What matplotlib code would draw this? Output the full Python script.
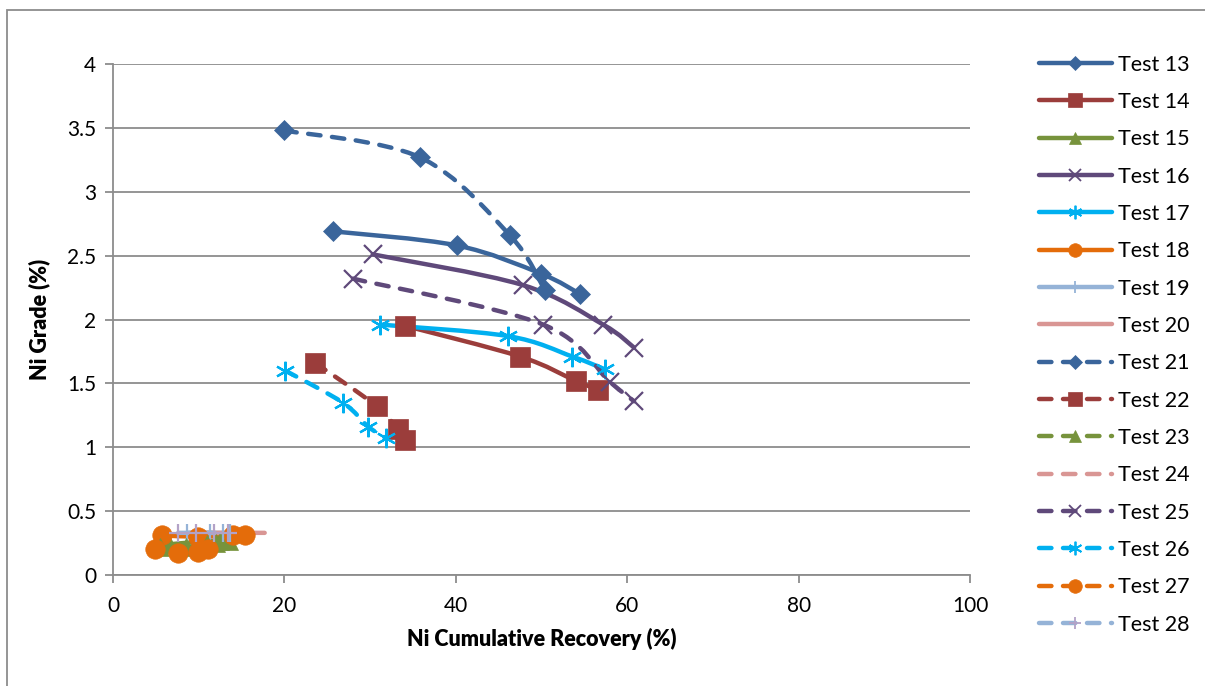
import numpy as np
import matplotlib
matplotlib.use('Agg')
import matplotlib.pyplot as plt
from matplotlib.path import Path
from matplotlib.patches import PathPatch, Rectangle
from matplotlib.lines import Line2D

plt.rcParams['font.family'] = ['Lato', 'DejaVu Sans']

# data (recovery %, grade %)
t13_x = [25.7, 40.1, 49.9, 54.5]
t13_y = [2.69, 2.58, 2.36, 2.20]
t14_x = [34.1, 47.5, 54.0, 56.6]
t14_y = [1.95, 1.71, 1.52, 1.45]
t15_x = [6.5, 10.0, 12.5, 13.5]
t15_y = [0.24, 0.26, 0.27, 0.27]
t16_x = [30.3, 47.8, 57.2, 60.8]
t16_y = [2.51, 2.27, 1.96, 1.78]
t17_x = [31.2, 46.1, 53.6, 57.4]
t17_y = [1.96, 1.87, 1.71, 1.61]
t18_x = [5.7, 9.9, 14.0, 15.4]
t18_y = [0.31, 0.30, 0.31, 0.31]
t19_x = [8.6, 11.3, 12.8, 13.6]
t19_y = [0.33, 0.33, 0.33, 0.33]
t20_x = [9.0, 12.0, 15.0, 17.7]
t20_y = [0.33, 0.33, 0.33, 0.33]
t21_x = [20.0, 35.8, 46.3, 50.4]
t21_y = [3.48, 3.27, 2.66, 2.23]
t22_x = [23.6, 30.8, 33.2, 34.1]
t22_y = [1.66, 1.32, 1.14, 1.06]
t23_x = [5.5, 8.5, 11.0, 12.0]
t23_y = [0.22, 0.22, 0.24, 0.25]
t24_x = [10.0, 12.5, 14.5, 16.0]
t24_y = [0.33, 0.33, 0.33, 0.33]
t25_x = [28.0, 50.2, 58.0, 60.8]
t25_y = [2.32, 1.96, 1.51, 1.36]
t26_x = [20.1, 26.8, 29.8, 31.9]
t26_y = [1.60, 1.35, 1.16, 1.07]
t27_x = [4.9, 7.6, 9.9, 11.1]
t27_y = [0.20, 0.17, 0.18, 0.20]
t28_x = [7.6, 9.7, 11.8, 13.4]
t28_y = [0.33, 0.33, 0.33, 0.33]

labels = ['Test %d' % i for i in range(13, 29)]
xs = [t13_x, t14_x, t15_x, t16_x, t17_x, t18_x, t19_x, t20_x,
      t21_x, t22_x, t23_x, t24_x, t25_x, t26_x, t27_x, t28_x]
ys = [t13_y, t14_y, t15_y, t16_y, t17_y, t18_y, t19_y, t20_y,
      t21_y, t22_y, t23_y, t24_y, t25_y, t26_y, t27_y, t28_y]

blue = '#3a659b'
red = '#9b3d3b'
green = '#77933c'
purple = '#5f497a'
cyan = '#00b0f0'
orange = '#e46c0a'
lblue = '#95b3d7'
pink = '#d99694'
lpurple = '#b3a2c7'

asterisk = (6, 2, 0)
# color, marker, marker color, marker size, dashed
styles = [
    (blue, 'D', blue, 10, False),
    (red, 's', red, 14, False),
    (green, '^', green, 13, False),
    (purple, 'x', purple, 13, False),
    (cyan, asterisk, cyan, 14, False),
    (orange, 'o', orange, 14, False),
    (lblue, '|', lblue, 13, False),
    (pink, None, pink, 0, False),
    (blue, 'D', blue, 10, True),
    (red, 's', red, 14, True),
    (green, '^', green, 13, True),
    (pink, None, pink, 0, True),
    (purple, 'x', purple, 13, True),
    (cyan, asterisk, cyan, 14, True),
    (orange, 'o', orange, 14, True),
    (lblue, '+', lpurple, 13, True),
]

LW = 3.2
DASH = (0, (2.8, 2.6))
THIN = ('x', '+', '|', asterisk)


def smooth_path(ax, x, y):
    # catmull-rom curve through the points, drawn as bezier segments
    pts = ax.transData.transform(np.column_stack([x, y]))
    n = len(pts)
    verts = [pts[0]]
    codes = [Path.MOVETO]
    for i in range(n - 1):
        p0 = pts[i - 1] if i > 0 else pts[i]
        p1 = pts[i]
        p2 = pts[i + 1]
        p3 = pts[i + 2] if i + 2 < n else pts[i + 1]
        c1 = p1 + (p2 - p0) / 6.0
        c2 = p2 - (p3 - p1) / 6.0
        verts += [c1, c2, p2]
        codes += [Path.CURVE4] * 3
    return Path(verts, codes)


fig = plt.figure(figsize=(12.05, 6.86), dpi=100)
ax = fig.add_axes([113 / 1205, 1 - 575 / 686, (970 - 113) / 1205, (575 - 64) / 686])
ax.set_xlim(0, 100)
ax.set_ylim(0, 4)

ax.set_xticks(np.arange(0, 101, 20))
ax.set_yticks(np.arange(0, 4.01, 0.5))
ax.set_yticklabels(['0', '0.5', '1', '1.5', '2', '2.5', '3', '3.5', '4'])
ax.grid(axis='y', color='#8c8c8c', linewidth=1.3)
ax.set_axisbelow(True)
for s in ['top', 'right']:
    ax.spines[s].set_visible(False)
for s in ['left', 'bottom']:
    ax.spines[s].set_color('#8c8c8c')
    ax.spines[s].set_linewidth(1.3)
ax.tick_params(axis='both', direction='out', length=6, width=1.3, color='#8c8c8c',
               labelsize=15, pad=6)
ax.tick_params(axis='x', pad=9)
ax.set_xlabel('Ni Cumulative Recovery (%)', fontsize=15.5, fontweight='heavy', labelpad=9)
ax.set_ylabel('Ni Grade (%)', fontsize=15.5, fontweight='heavy', labelpad=12)

handles = []
for x, y, lab, st in zip(xs, ys, labels, styles):
    col, mk, mcol, ms, dashed = st
    ls = DASH if dashed else '-'
    patch = PathPatch(smooth_path(ax, x, y), transform=None, fill=False,
                      edgecolor=col, linewidth=LW, linestyle=ls,
                      capstyle='round', joinstyle='round', zorder=2)
    ax.add_artist(patch)
    if mk is not None:
        ax.plot(x, y, linestyle='none', marker=mk, markersize=ms,
                color=mcol, markeredgewidth=1.6 if mk in THIN else 0.5, zorder=3)
    h = Line2D([], [], color=col, linewidth=LW, linestyle=ls,
               solid_capstyle='round', dash_capstyle='round',
               marker=mk if mk is not None else '', markersize=ms * 0.7,
               markerfacecolor=mcol, markeredgecolor=mcol,
               markeredgewidth=1.3 if mk in THIN else 0.5)
    handles.append(h)

leg = fig.legend(handles, labels, loc='upper left', bbox_to_anchor=(1030 / 1205, 1 - 46 / 686),
                 frameon=False, fontsize=15.5, handlelength=3.4, handletextpad=0.3,
                 labelspacing=0.805, borderaxespad=0)

fig.patches.append(Rectangle((7 / 1205, -0.1), 1.2, 1 - 10 / 686 + 0.1,
                             transform=fig.transFigure, fill=False,
                             edgecolor='#8c8c8c', linewidth=1.3))

fig.savefig('out.png', dpi=100)
